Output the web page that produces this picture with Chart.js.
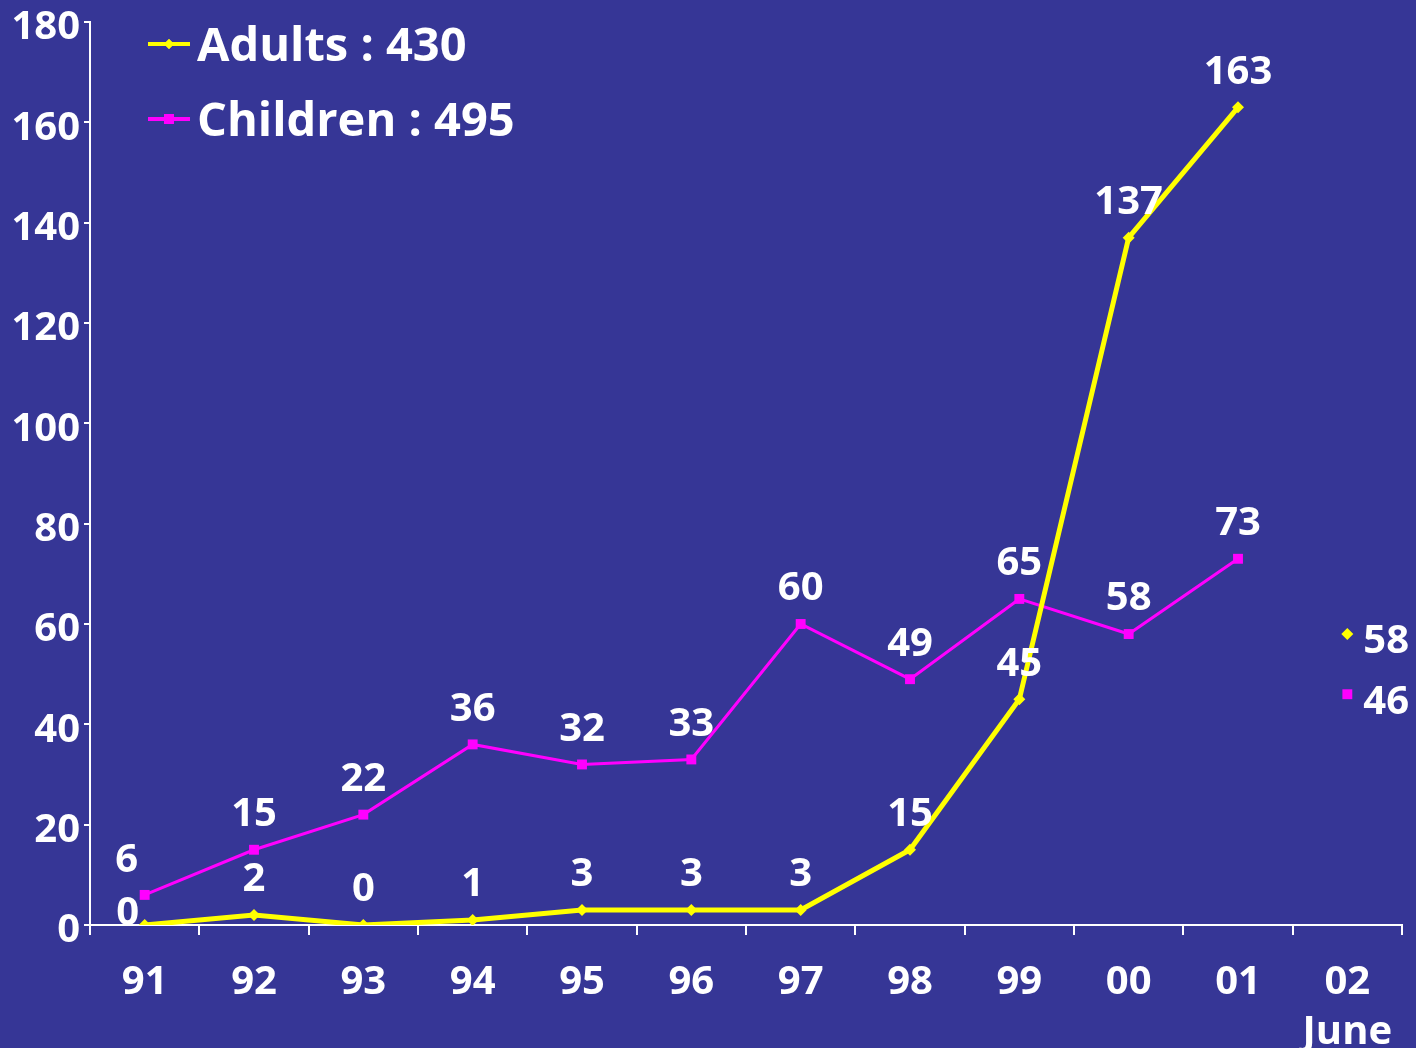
<!DOCTYPE html>
<html>
<head>
<meta charset="utf-8">
<script src="https://cdn.jsdelivr.net/npm/chart.js@4.4.1/dist/chart.umd.min.js"></script>
<style>
  html, body { margin: 0; padding: 0; background: #363696; }
  #wrap { width: 1416px; height: 1048px; }
</style>
</head>
<body>
<div id="wrap"><canvas id="chart" width="1416" height="1048"></canvas></div>
<script>
// Данные
const years = ['91', '92', '93', '94', '95', '96', '97', '98', '99', '00', '01', ['02', 'June']];
const adults = [0, 2, 0, 1, 3, 3, 3, 15, 45, 137, 163, null];
const children = [6, 15, 22, 36, 32, 33, 60, 49, 65, 58, 73, null];
const adultsJune = [null, null, null, null, null, null, null, null, null, null, null, 58];
const childrenJune = [null, null, null, null, null, null, null, null, null, null, null, 46];
const yTicks = [0, 20, 40, 60, 80, 100, 120, 140, 160, 180];
const legendItems = ['Adults : 430', 'Children : 495'];

const FONT = '"Open Sans", Lato, "DejaVu Sans", sans-serif';
const WHITE = '#ffffff';
const YELLOW = '#ffff00';
const MAGENTA = '#ff00ff';

// Подписи значений над точками
const valueLabels = {
    id: 'valueLabels',
    afterDatasetsDraw(chart) {
        const ctx = chart.ctx;
        ctx.save();
        ctx.font = 'bold 40px ' + FONT;
        ctx.fillStyle = WHITE;
        ctx.textBaseline = 'middle';
        chart.data.datasets.forEach((ds, di) => {
            const meta = chart.getDatasetMeta(di);
            meta.data.forEach((pt, i) => {
                const v = ds.data[i];
                if (v === null || v === undefined) return;
                if (ds.side) {
                    ctx.textAlign = 'left';
                    ctx.fillText(String(v), pt.x + 16, pt.y + 8);
                } else if (i === 0 && di === 0) {
                    // первая точка взрослых — подпись слева
                    ctx.textAlign = 'center';
                    ctx.fillText(String(v), pt.x - 17, pt.y - 11);
                } else if (i === 0) {
                    ctx.textAlign = 'center';
                    ctx.fillText(String(v), pt.x - 18, pt.y - 34);
                } else {
                    ctx.textAlign = 'center';
                    ctx.fillText(String(v), pt.x, pt.y - 35);
                }
            });
        });
        ctx.restore();
    }
};

// Легенда внутри области графика
const insideLegend = {
    id: 'insideLegend',
    afterDraw(chart) {
        const ctx = chart.ctx;
        const rows = [
            { text: legendItems[0], color: YELLOW, style: 'rectRot', y: 44, w: 4, r: 5 },
            { text: legendItems[1], color: MAGENTA, style: 'rect', y: 119, w: 4, r: 7 }
        ];
        ctx.save();
        rows.forEach(row => {
            ctx.strokeStyle = row.color;
            ctx.lineWidth = row.w;
            ctx.beginPath();
            ctx.moveTo(148, row.y);
            ctx.lineTo(190, row.y);
            ctx.stroke();
            ctx.fillStyle = row.color;
            Chart.helpers.drawPoint(ctx, { pointStyle: row.style, radius: row.r, borderWidth: 0 }, 169, row.y);
            ctx.fill();
            ctx.fillStyle = WHITE;
            ctx.font = 'bold 47px ' + FONT;
            ctx.textAlign = 'left';
            ctx.textBaseline = 'middle';
            ctx.fillText(row.text, 197, row.y + 4);
        });
        ctx.restore();
    }
};

const bgPlugin = {
    id: 'bg',
    beforeDraw(chart) {
        const ctx = chart.ctx;
        ctx.save();
        ctx.fillStyle = '#363696';
        ctx.fillRect(0, 0, chart.width, chart.height);
        ctx.restore();
    }
};

new Chart(document.getElementById('chart'), {
    type: 'line',
    data: {
        labels: years,
        datasets: [
            {
                label: 'Adults',
                data: adults,
                borderColor: YELLOW,
                backgroundColor: YELLOW,
                borderWidth: 5,
                pointStyle: 'rectRot',
                pointRadius: 6,
                pointBorderWidth: 0,
                tension: 0
            },
            {
                label: 'Children',
                data: children,
                borderColor: MAGENTA,
                backgroundColor: MAGENTA,
                borderWidth: 3,
                pointStyle: 'rect',
                pointRadius: 7,
                pointBorderWidth: 0,
                tension: 0
            },
            {
                label: 'Adults June',
                data: adultsJune,
                side: true,
                showLine: false,
                backgroundColor: YELLOW,
                borderColor: YELLOW,
                pointStyle: 'rectRot',
                pointRadius: 6,
                pointBorderWidth: 0
            },
            {
                label: 'Children June',
                data: childrenJune,
                side: true,
                showLine: false,
                backgroundColor: MAGENTA,
                borderColor: MAGENTA,
                pointStyle: 'rect',
                pointRadius: 7,
                pointBorderWidth: 0
            }
        ]
    },
    options: {
        responsive: false,
        animation: false,
        layout: {
            padding: { top: 20, right: 14, left: 0, bottom: 0 }
        },
        plugins: {
            legend: { display: false },
            tooltip: { enabled: false }
        },
        scales: {
            x: {
                offset: true,
                border: { color: WHITE, width: 2 },
                grid: {
                    offset: true,
                    drawOnChartArea: false,
                    color: WHITE,
                    tickLength: 10,
                    lineWidth: 2
                },
                ticks: {
                    color: WHITE,
                    font: { family: FONT, size: 40, weight: 'bold', lineHeight: 1.25 },
                    padding: 23,
                    maxRotation: 0,
                    autoSkip: false
                },
                afterFit(scale) {
                    scale.height = 1048 - 925;
                }
            },
            y: {
                min: 0,
                max: 180,
                afterBuildTicks(scale) {
                    scale.ticks = yTicks.map(v => ({ value: v }));
                },
                border: { color: WHITE, width: 2 },
                grid: {
                    drawOnChartArea: false,
                    color: WHITE,
                    tickLength: 6,
                    lineWidth: 2
                },
                ticks: {
                    color: WHITE,
                    font: { family: FONT, size: 40, weight: 'bold', lineHeight: 0.9 },
                    padding: 4,
                    labelOffset: 6
                },
                afterFit(scale) {
                    scale.width = 90;
                }
            }
        }
    },
    plugins: [bgPlugin, valueLabels, insideLegend]
});
</script>
</body>
</html>
